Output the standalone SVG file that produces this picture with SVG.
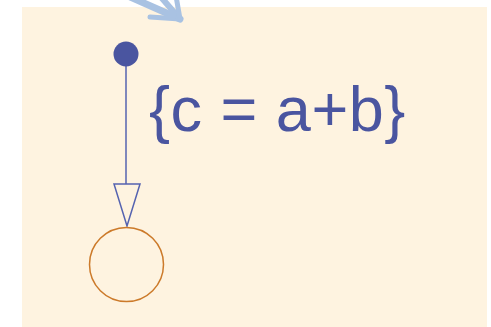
<svg xmlns="http://www.w3.org/2000/svg" width="491" height="327" viewBox="0 0 491 327">
<defs>
<style>
.conn{stroke:#5563b0;stroke-width:1.5;fill:none}
.lbl{font-family:"Liberation Sans",Arial,sans-serif;font-size:63px;fill:#4a55a0}
.top{stroke:#a9c2e2;stroke-linecap:round;fill:none}
</style>
<linearGradient id="g1" x1="0" y1="0" x2="1" y2="1">
<stop offset="0" stop-color="#c8d8ee" stop-opacity="0.3"/>
<stop offset="1" stop-color="#9ab6dc"/>
</linearGradient>
</defs>
<rect x="0" y="0" width="491" height="327" fill="#ffffff"/>
<rect x="22" y="7" width="465" height="320" fill="#fef3e0"/>
<g id="incoming">
<path class="top" d="M128 -4 L180 19" stroke-width="7" stroke="url(#g1)"/>
<path class="top" d="M150 17 L180 19" stroke-width="5"/>
<path class="top" d="M160 -4 L180 19" stroke-width="6" stroke="#b3c9e6"/>
<path class="top" d="M176 -4 L180 19" stroke-width="5"/>
</g>
<g id="connectors">
<line class="conn" x1="126" y1="62" x2="126" y2="184"/>
<polygon class="conn" points="114,184 140,184 127,226"/>
</g>
<g id="initial">
<circle cx="126" cy="54" r="12.5" fill="#4a55a0"/>
</g>
<g id="label">
<text class="lbl" x="149" y="131" letter-spacing="0.5">{c = a+b}</text>
</g>
<g id="state">
<circle cx="126.5" cy="264.5" r="37" fill="none" stroke="#cc7a2a" stroke-width="1.5"/>
</g>
</svg>
